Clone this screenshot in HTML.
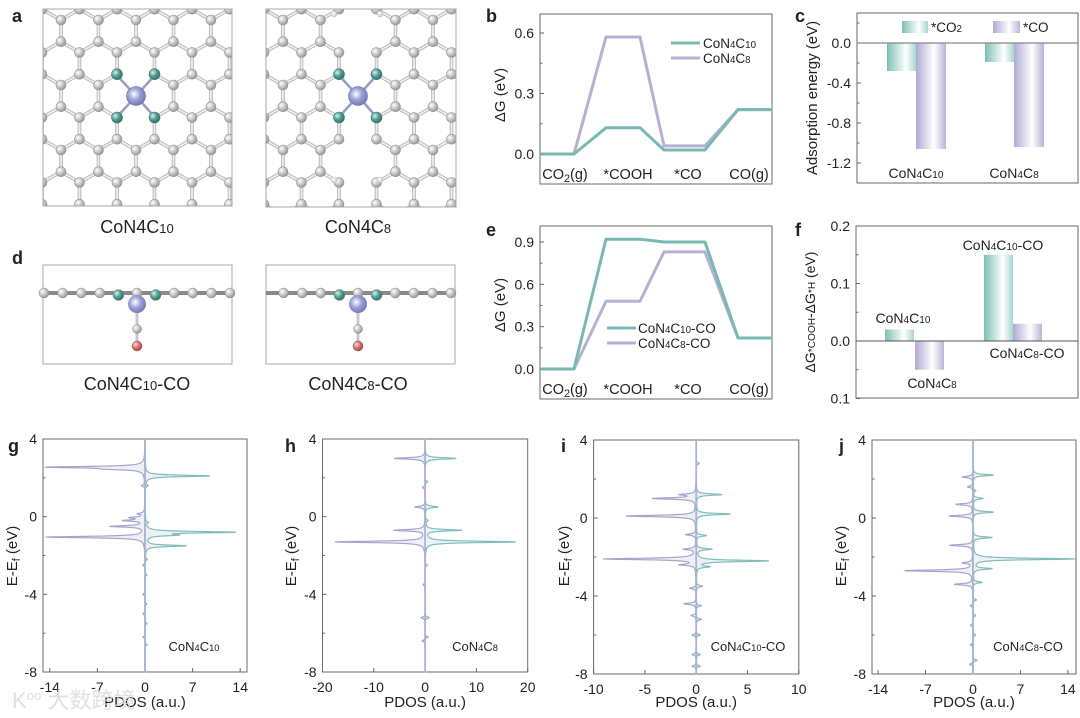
<!DOCTYPE html>
<html><head><meta charset="utf-8"><style>
html,body{margin:0;padding:0;background:#fff;}
svg{display:block;font-family:"Liberation Sans",Arial,sans-serif;}
</style></head><body>
<svg id="fig" width="1080" height="718" viewBox="0 0 1080 718" xmlns="http://www.w3.org/2000/svg">
<defs>
<radialGradient id="gC" cx="35%" cy="35%" r="70%"><stop offset="0" stop-color="#ffffff"/><stop offset="0.5" stop-color="#c8c8c8"/><stop offset="1" stop-color="#939393"/></radialGradient>
<radialGradient id="gN" cx="35%" cy="35%" r="70%"><stop offset="0" stop-color="#d8f0ec"/><stop offset="0.5" stop-color="#4f9f94"/><stop offset="1" stop-color="#2f6f66"/></radialGradient>
<radialGradient id="gCo" cx="40%" cy="40%" r="70%"><stop offset="0" stop-color="#ffffff"/><stop offset="0.45" stop-color="#9aa0d4"/><stop offset="1" stop-color="#6a70a8"/></radialGradient>
<radialGradient id="gO" cx="35%" cy="35%" r="70%"><stop offset="0" stop-color="#ffe0e0"/><stop offset="0.5" stop-color="#d87070"/><stop offset="1" stop-color="#a04848"/></radialGradient>
<radialGradient id="gH" cx="35%" cy="35%" r="70%"><stop offset="0" stop-color="#ffffff"/><stop offset="1" stop-color="#c8c8c8"/></radialGradient>
<linearGradient id="barT" x1="0" x2="1" y1="0" y2="0"><stop offset="0" stop-color="#7dbfb5"/><stop offset="0.65" stop-color="#ffffff"/><stop offset="1" stop-color="#a8d5cf"/></linearGradient>
<linearGradient id="barP" x1="0" x2="1" y1="0" y2="0"><stop offset="0" stop-color="#aeabd3"/><stop offset="0.6" stop-color="#ffffff"/><stop offset="1" stop-color="#b8b5d8"/></linearGradient>
<clipPath id="clipA1"><rect x="43" y="9" width="189" height="197"/></clipPath>
<clipPath id="clipA2"><rect x="266" y="9" width="190" height="198"/></clipPath>
</defs>
</svg>
<script>
// ---------- DATA ----------
const stepLabels = ['CO<tspan font-size="75%" dy="3">2</tspan><tspan dy="-3">(g)</tspan>','*COOH','*CO','CO(g)'];
const bC10 = [0, 0.13, 0.02, 0.22];
const bC8  = [0, 0.58, 0.04, 0.22];
const eC10 = [0, 0.92, 0.90, 0.22];
const eC8  = [0, 0.48, 0.83, 0.22];
const cCats = ['CoN4C10','CoN4C8'];
const cCO2 = [-0.28, -0.19];
const cCO  = [-1.06, -1.04];
const fVals = [0.02, -0.05, 0.15, 0.03];
const fLabels = ['CoN4C10','CoN4C8','CoN4C10-CO','CoN4C8-CO'];
const gUpE = [2.1, 1.6, -0.8, -0.95, -1.5, -0.3, -2.2, -3.0, -4.5, -5.5, -6.6];
const gUpH = [9.5, 0.4, 13, 4, 6, 0.4, 0.3, 0.3, 0.3, 0.3, 0.3];
const gDnE = [2.55, 2.45, -1.05, -0.5, -0.2, -0.05, 0.15, 1.6, -2.5, -4.0, -5.0, -6.2];
const gDnH = [-14, -4, -14.5, -5, -3, -2, -1, -0.5, -0.3, -0.3, -0.3, -0.3];
const hUpE = [3.0, 0.5, -0.2, -0.7, -1.3, 1.8, -2.5, -5.2, -6.2];
const hUpH = [6, 2.5, 0.5, 7, 17.5, 0.5, 0.4, 0.8, 0.6];
const hDnE = [3.0, 0.5, -0.7, -1.3, 1.5, -3.5, -5.2, -6.4];
const hDnH = [-6, -2, -6, -17.5, -0.5, -0.4, -0.8, -0.6];
const iUpE = [1.2, 0.2, -0.9, -1.6, -2.2, -2.5, 2.8, -3.5, -4.5, -5.2, -6.0, -7.0, -7.6];
const iUpH = [2.5, 3.3, 1.0, 1.5, 7, 1.2, 0.3, 0.6, 0.5, 0.5, 0.4, 0.4, 0.4];
const iDnE = [1.0, 1.2, 0.1, -0.85, -1.6, -2.1, -2.4, -4.4, -3.6, -5.0, -6.0, -7.0, -7.6];
const iDnH = [-4.2, -1.5, -6.8, -1.0, -1.2, -9, -1.5, -1.2, -0.6, -0.5, -0.4, -0.4, -0.4];
const jUpE = [2.2, 1.0, 0.3, -1.0, -2.1, -2.6, -3.3, 1.4, -4.2, -5.0, -6.0, -7.3];
const jUpH = [3, 1.5, 3, 2.8, 15, 2.7, 1.3, 0.4, 0.5, 0.4, 0.4, 0.6];
const jDnE = [2.1, 1.6, 0.7, 0.1, -1.4, -2.3, -2.7, -3.4, -4.5, -5.5, -6.5, -7.5];
const jDnH = [-1.6, -0.8, -2.5, -3.5, -3.4, -1.5, -10, -2.7, -0.4, -0.4, -0.4, -0.5];

// ---------- HELPERS ----------
const NS = 'http://www.w3.org/2000/svg';
const svg = document.getElementById('fig');
function mk(tag, attrs, parent){ const e=document.createElementNS(NS,tag); for(const k in attrs) e.setAttribute(k, attrs[k]); (parent||svg).appendChild(e); return e; }
function txt(x,y,html,size,anchor,parent,weight){ const t=mk('text',{x:x,y:y,'font-size':size,'text-anchor':anchor||'middle',fill:'#222','font-weight':weight||'normal'},parent); t.innerHTML=html; return t; }
function fmt(name){
  return name.replace(/^CoN4C(\d+)/, function(m,n){ return 'CoN<tspan font-size="72%">4</tspan>C<tspan font-size="72%">'+n+'</tspan>'; });
}
const TEAL='#7ab8b0', PURP='#b4b1d4', FRAME='#6a6a6a';

// panel letters
[['a',12,22],['b',486,22],['c',795,22],['d',12,264],['e',486,236],['f',795,236],['g',8,452],['h',285,452],['i',561,452],['j',839,452]].forEach(function(p){
  const t = txt(p[1],p[2],p[0],18,'start',svg,'bold');
  
  
});

// ---------- STRUCTURES ----------
function lattice(g, dx, variant){
  const a=21.7, w=37.5, atoms=[], bonds=[];
  const pairs=[];
  for(let j=-1;j<=6;j++){
    const top=20+32.5*j, off=(j%2===0)?61:42;
    const row=[];
    for(let i=-1;i<=6;i++){ const x=off+w*i+dx; row.push([x,top,x,top+a]); }
    pairs.push({j:j,row:row});
  }
  const coX=136+dx;
  function removed(x,y){
    if(Math.abs(x-coX)<3 && (Math.abs(y-85)<3 || Math.abs(y-106.7)<3)) return true;
    if(variant===2 && Math.abs(x-coX)<3) return true;
    return false;
  }
  pairs.forEach(function(p,k){
    p.row.forEach(function(r){
      if(!removed(r[0],r[1]) && !removed(r[2],r[3])) bonds.push([r[0],r[1],r[2],r[3]]);
      if(k+1<pairs.length){
        [-18.75,18.75].forEach(function(s){
          const nx=r[2]+s, ny=r[3]+10.8;
          if(!removed(r[2],r[3]) && !removed(nx,ny)) bonds.push([r[2],r[3],nx,ny]);
        });
      }
      if(!removed(r[0],r[1])) atoms.push([r[0],r[1]]);
      if(!removed(r[2],r[3])) atoms.push([r[2],r[3]]);
    });
  });
  bonds.forEach(function(b){
    const l=mk('line',{x1:b[0],y1:b[1],x2:b[2],y2:b[3],stroke:'#b4b4b4','stroke-width':3.6},g);
     
    const l2=mk('line',{x1:b[0],y1:b[1],x2:b[2],y2:b[3],stroke:'#eeeeee','stroke-width':1.8},g);
     
  });
  const Npos=[[117+dx,75.4],[154.5+dx,75.4],[117+dx,117],[154.5+dx,117]];
  Npos.forEach(function(n){
    const l=mk('line',{x1:n[0],y1:n[1],x2:coX,y2:96,stroke:'#94a2c6','stroke-width':2.6},g);
     
  });
  atoms.forEach(function(at){
    const isN = Npos.some(function(n){return Math.abs(n[0]-at[0])<3&&Math.abs(n[1]-at[1])<3;});
    const c=mk('circle',{cx:at[0],cy:at[1],r:isN?5.5:5,fill:isN?'url(#gN)':'url(#gC)',stroke:isN?'#3e7f76':'#959595','stroke-width':0.6},g);
     
  });
  if(variant===2){
    [[334,14],[380,14],[334,180],[380,180]].forEach(function(h){
      const c=mk('circle',{cx:h[0],cy:h[1],r:3,fill:'url(#gH)',stroke:'#bbb','stroke-width':0.5},g);
       
    });
  }
  const co=mk('circle',{cx:coX,cy:96,r:9.5,fill:'url(#gCo)',stroke:'#6a70a8','stroke-width':0.6},g);
   
}
[[0,'clipA1',1,43,9,189,197,137,'CoN4C10'],[222,'clipA2',2,266,9,190,198,358,'CoN4C8']].forEach(function(s){
  const g=mk('g',{'clip-path':'url(#'+s[1]+')'});
   
  lattice(g,s[0],s[2]);
  const box=mk('rect',{x:s[3],y:s[4],width:s[5],height:s[6],fill:'none',stroke:'#aaa','stroke-width':1});
   
  const t=txt(s[7],233,s[8]==='CoN4C10'?'CoN4C<tspan font-size="72%">10</tspan>':'CoN4C<tspan font-size="72%">8</tspan>',18);
   
});
// side views
[[43,137,'CoN4C10-CO'],[266,358,'CoN4C8-CO']].forEach(function(s){
  const g=mk('g',{});
   
  const box=mk('rect',{x:s[0],y:265,width:189,height:99,fill:'none',stroke:'#aaa','stroke-width':1},g);
   
  const ln=mk('line',{x1:s[0],y1:293,x2:s[0]+189,y2:293,stroke:'#8a8a8a','stroke-width':4},g);
   
  const ax=s[1];
  const b1=mk('line',{x1:ax,y1:304,x2:ax,y2:346,stroke:'#c8c8d8','stroke-width':3},g);
   
  for(let k=-5;k<=5;k++){
    const x=ax+k*18.6; if(x<s[0]+1||x>s[0]+188) continue;
    const isN=(k===-1||k===1);
    const c=mk('circle',{cx:x,cy:isN?295:293,r:isN?5.5:5,fill:isN?'url(#gN)':'url(#gC)',stroke:'#888','stroke-width':0.5},g);
     
  }
  const co=mk('circle',{cx:ax,cy:304,r:9,fill:'url(#gCo)'},g);
   
  const c2=mk('circle',{cx:ax,cy:329,r:4.5,fill:'url(#gC)',stroke:'#888','stroke-width':0.5},g);
   
  const o=mk('circle',{cx:ax,cy:346,r:5,fill:'url(#gO)',stroke:'#a04848','stroke-width':0.5},g);
   
  const t=txt(ax,390,s[2]==='CoN4C10-CO'?'CoN4C<tspan font-size="72%">10</tspan>-CO':'CoN4C<tspan font-size="72%">8</tspan>-CO',18);
   
});

// ---------- AXIS FRAME HELPER ----------
function frame(name,L,R,T,B){
  const r=mk('rect',{x:L,y:T,width:R-L,height:B-T,fill:'none',stroke:FRAME,'stroke-width':1});
   
}
function yTicks(name,L,vals,labels,yf,minor){
  vals.forEach(function(v,k){
    const y=yf(v);
    const tk=mk('line',{x1:L,y1:y,x2:L+4,y2:y,stroke:FRAME,'stroke-width':1});
     
    const t=txt(L-6,y+5,labels[k],14,'end');
     
  });
  (minor||[]).forEach(function(v){
    const y=yf(v);
    const tk=mk('line',{x1:L,y1:y,x2:L+2.5,y2:y,stroke:FRAME,'stroke-width':1});
     
  });
}
function yTitle(name,x,y,html,size){
  const t=txt(x,y,html,size||15,'middle');
  t.setAttribute('transform','rotate(-90 '+x+' '+y+')');
   
}

// ---------- ENERGY PROFILES (b, e) ----------
const levelX = [[541,574],[606,640],[664,705],[738,772]];
const labelX = [565,628,688,749];
function profile(name,T,B,yf,series,colors,ticks,tickLabels,minor,labY){
  frame(name,540,772,T,B);
  yTicks(name,540,ticks,tickLabels,yf,minor);
  series.forEach(function(vals,s){
    let d='';
    vals.forEach(function(v,i){ d+=(i===0?'M':'L')+levelX[i][0]+','+yf(v)+'L'+levelX[i][1]+','+yf(v); });
    const p=mk('path',{d:d,fill:'none',stroke:colors[s],'stroke-width':3,'stroke-linejoin':'round'});
     
  });
  stepLabels.forEach(function(l,i){
    const t=txt(labelX[i],labY,l,14.5,'middle');
     
  });
}
const yB=function(v){return 154-v*201.7;};
profile('panel-b',14,184,yB,[bC8,bC10],[PURP,TEAL],[0,0.3,0.6],['0.0','0.3','0.6'],[0.15,0.45],179);
yTitle('panel-b',505,95,'ΔG (eV)');
[[43,TEAL,'CoN4C10'],[58,PURP,'CoN4C8']].forEach(function(l){
  const ln=mk('line',{x1:671,y1:l[0],x2:700,y2:l[0],stroke:l[1],'stroke-width':3});
   
  const t=txt(703,l[0]+5,fmt(l[2]),13.5,'start');
   
});
const yE=function(v){return 369-v*141.1;};
profile('panel-e',226,399,yE,[eC8,eC10],[PURP,TEAL],[0,0.3,0.6,0.9],['0.0','0.3','0.6','0.9'],[0.15,0.45,0.75],394);
yTitle('panel-e',505,305,'ΔG (eV)');
[[328,TEAL,'CoN4C10-CO'],[343,PURP,'CoN4C8-CO']].forEach(function(l){
  const ln=mk('line',{x1:607,y1:l[0],x2:636,y2:l[0],stroke:l[1],'stroke-width':3});
   
  const t=txt(638,l[0]+5,fmt(l[2]),13.5,'start');
   
});

// ---------- BAR CHART c ----------
const yC=function(v){return 43-v*100;};
frame('panel-c',857,1078,13,183);
yTicks('panel-c',857,[0,-0.4,-0.8,-1.2],['0.0','-0.4','-0.8','-1.2'],yC,[0.2,-0.2,-0.6,-1.0,-1.4]);
yTitle('panel-c',817,98,'Adsorption energy (eV)');
const cCenters=[916,1014];
cCats.forEach(function(c,i){
  const x=cCenters[i];
  const b1=mk('rect',{x:x-29,y:yC(0),width:29,height:yC(cCO2[i])-yC(0),fill:'url(#barT)'});
   
  const b2=mk('rect',{x:x,y:yC(0),width:30,height:yC(cCO[i])-yC(0),fill:'url(#barP)'});
   
  const t=txt(x,178,fmt(c),14,'middle');
   
});
const z=mk('line',{x1:857,y1:yC(0),x2:1078,y2:yC(0),stroke:'#888','stroke-width':1.2});
 
const lgc1=mk('rect',{x:902,y:21,width:26,height:12,fill:'url(#barT)'});
 
const lgt1=txt(931,32,'*CO<tspan font-size="72%">2</tspan>',13.5,'start');
 
const lgc2=mk('rect',{x:993,y:21,width:27,height:12,fill:'url(#barP)'});
 
const lgt2=txt(1023,32,'*CO',13.5,'start');
 

// ---------- BAR CHART f ----------
const yF=function(v){return 341-v*575;};
frame('panel-f',856,1078,226,398);
yTicks('panel-f',856,[0.2,0.1,0,-0.1],['0.2','0.1','0.0','0.1'],yF,[0.15,0.05,-0.05]);
yTitle('panel-f',815,312,'ΔG<tspan font-size="72%">*COOH</tspan>-ΔG<tspan font-size="72%">*H</tspan> (eV)',14);
const fLeft=[885,915,984,1013];
const fLabPos=[[903,323],[932,388],[1003,250],[1027,358]];
fVals.forEach(function(v,i){
  const y0=yF(0), y1=yF(v);
  const b=mk('rect',{x:fLeft[i],y:Math.min(y0,y1),width:29,height:Math.abs(y1-y0),fill:(i%2===0)?'url(#barT)':'url(#barP)'});
   
  const t=txt(fLabPos[i][0],fLabPos[i][1],fmt(fLabels[i]),14,'middle');
   
});
const zf=mk('line',{x1:856,y1:yF(0),x2:1078,y2:yF(0),stroke:'#555','stroke-width':1});
 

// ---------- PDOS PANELS ----------
function pdos(name,L,R,T,B,xmin,xmax,xticks,upE,upH,dnE,dnH,label,labX){
  const xf=function(v){return L+(v-xmin)/(xmax-xmin)*(R-L);};
  const yf=function(e){return T+(4-e)/12*(B-T);};
  frame(name,L,R,T,B);
  yTicks(name,L,[4,0,-4,-8],['4','0','-4','-8'],yf,[2,-2,-6]);
  xticks.forEach(function(v){
    const x=xf(v);
    const tk=mk('line',{x1:x,y1:B,x2:x,y2:B-4,stroke:FRAME,'stroke-width':1});
     
    const t=txt(x,B+20,String(v),14,'middle');
     
  });
  const x0=xf(0);
  function curve(E,H,col,nm){
    const gam=0.045; let d='M'+x0+','+yf(4);
    for(let e=4;e>=-8;e-=0.01){
      let v=0; for(let k=0;k<E.length;k++){ v+=H[k]*gam*gam/((e-E[k])*(e-E[k])+gam*gam); }
      v=Math.max(xmin,Math.min(xmax,v));
      d+='L'+xf(v).toFixed(2)+','+yf(e).toFixed(2);
    }
    d+='L'+x0+','+yf(-8)+'Z';
    const p=mk('path',{d:d,fill:'#eef0f8',stroke:col,'stroke-width':1.2,'stroke-linejoin':'round'});
     
  }
  curve(dnE,dnH,'#a7a4cc',name+'-spin-down-pdos');
  curve(upE,upH,'#7fbdb6',name+'-spin-up-pdos');
  const ax=mk('line',{x1:x0,y1:T,x2:x0,y2:B,stroke:'#a9b4d0','stroke-width':1.8});
   
  const lt=txt(labX,651,label,13,'middle');
   
  const xt=txt((L+R)/2,707,'PDOS (a.u.)',15,'middle');
   
}
pdos('panel-g',43,247,439,672,-15,15,[-14,-7,0,7,14],gUpE,gUpH,gDnE,gDnH,'CoN<tspan font-size="72%">4</tspan>C<tspan font-size="72%">10</tspan>',194);
pdos('panel-h',322.5,527.7,439,672,-20,20,[-20,-10,0,10,20],hUpE,hUpH,hDnE,hDnH,'CoN<tspan font-size="72%">4</tspan>C<tspan font-size="72%">8</tspan>',475);
pdos('panel-i',593.6,798.8,440,674,-10,10,[-10,-5,0,5,10],iUpE,iUpH,iDnE,iDnH,'CoN<tspan font-size="72%">4</tspan>C<tspan font-size="72%">10</tspan>-CO',748);
pdos('panel-j',872,1076,440,674,-14.9,15.2,[-14,-7,0,7,14],jUpE,jUpH,jDnE,jDnH,'CoN<tspan font-size="72%">4</tspan>C<tspan font-size="72%">8</tspan>-CO',1028);
yTitle('panel-g',17,556,'E-E<tspan font-size="72%" dy="3">f</tspan><tspan dy="-3"> (eV)</tspan>');
yTitle('panel-h',296,556,'E-E<tspan font-size="72%" dy="3">f</tspan><tspan dy="-3"> (eV)</tspan>');
yTitle('panel-i',569,556,'E-E<tspan font-size="72%" dy="3">f</tspan><tspan dy="-3"> (eV)</tspan>');
yTitle('panel-j',846,556,'E-E<tspan font-size="72%" dy="3">f</tspan><tspan dy="-3"> (eV)</tspan>');

// watermark
const wm=txt(12,708,'K<tspan font-size="60%" dy="-8">oo</tspan><tspan dy="8"> 大数跨境</tspan>',22,'start');
wm.setAttribute('font-family','"Liberation Sans","Noto Sans CJK SC",sans-serif');
wm.setAttribute('fill','#d9d9d9');
wm.setAttribute('opacity','0.8');


</script>
</body></html>
